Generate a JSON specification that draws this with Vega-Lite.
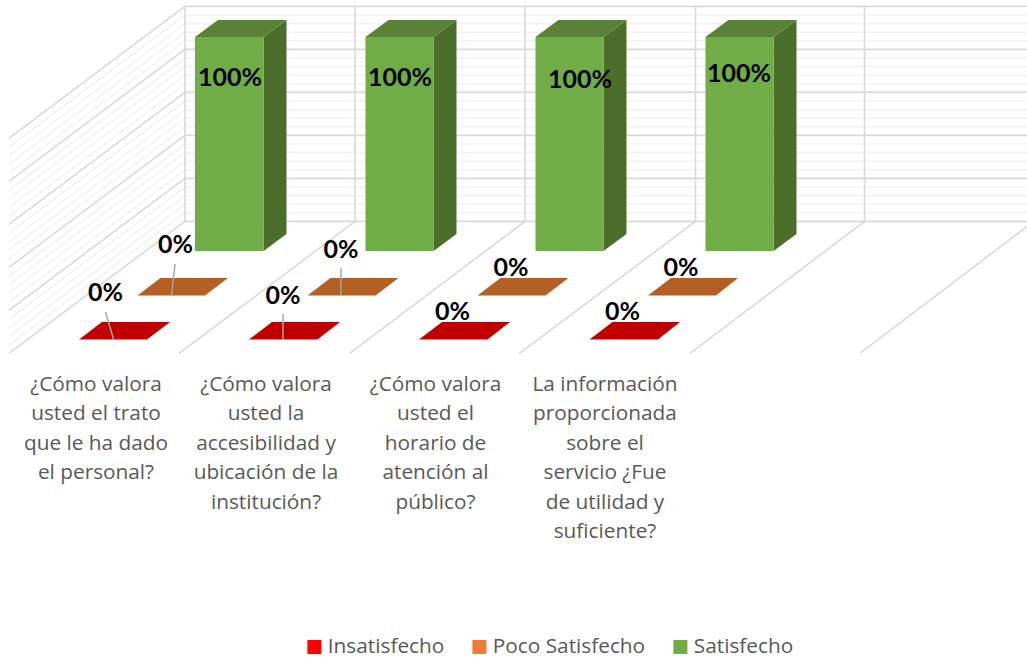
{"$schema":"https://vega.github.io/schema/vega-lite/v6.json","width":1027,"height":659,"autosize":{"type":"none"},"padding":0,"background":"#ffffff","config":{"view":{"stroke":null},"font":"Open Sans"},
"datasets":{
"wall":[
{"l":0,"k":"major","o":0,"x":9,"y":138.4},{"l":0,"k":"major","o":1,"x":185,"y":6.4},{"l":0,"k":"major","o":2,"x":1027,"y":6.4},
{"l":1,"k":"minor","o":0,"x":9,"y":147},{"l":1,"k":"minor","o":1,"x":185,"y":15},{"l":1,"k":"minor","o":2,"x":1027,"y":15},
{"l":2,"k":"minor","o":0,"x":9,"y":155.6},{"l":2,"k":"minor","o":1,"x":185,"y":23.6},{"l":2,"k":"minor","o":2,"x":1027,"y":23.6},
{"l":3,"k":"minor","o":0,"x":9,"y":164.2},{"l":3,"k":"minor","o":1,"x":185,"y":32.2},{"l":3,"k":"minor","o":2,"x":1027,"y":32.2},
{"l":4,"k":"minor","o":0,"x":9,"y":172.8},{"l":4,"k":"minor","o":1,"x":185,"y":40.8},{"l":4,"k":"minor","o":2,"x":1027,"y":40.8},
{"l":5,"k":"major","o":0,"x":9,"y":181.4},{"l":5,"k":"major","o":1,"x":185,"y":49.4},{"l":5,"k":"major","o":2,"x":1027,"y":49.4},
{"l":6,"k":"minor","o":0,"x":9,"y":190},{"l":6,"k":"minor","o":1,"x":185,"y":58},{"l":6,"k":"minor","o":2,"x":1027,"y":58},
{"l":7,"k":"minor","o":0,"x":9,"y":198.6},{"l":7,"k":"minor","o":1,"x":185,"y":66.6},{"l":7,"k":"minor","o":2,"x":1027,"y":66.6},
{"l":8,"k":"minor","o":0,"x":9,"y":207.2},{"l":8,"k":"minor","o":1,"x":185,"y":75.2},{"l":8,"k":"minor","o":2,"x":1027,"y":75.2},
{"l":9,"k":"minor","o":0,"x":9,"y":215.8},{"l":9,"k":"minor","o":1,"x":185,"y":83.8},{"l":9,"k":"minor","o":2,"x":1027,"y":83.8},
{"l":10,"k":"major","o":0,"x":9,"y":224.4},{"l":10,"k":"major","o":1,"x":185,"y":92.4},{"l":10,"k":"major","o":2,"x":1027,"y":92.4},
{"l":11,"k":"minor","o":0,"x":9,"y":233},{"l":11,"k":"minor","o":1,"x":185,"y":101},{"l":11,"k":"minor","o":2,"x":1027,"y":101},
{"l":12,"k":"minor","o":0,"x":9,"y":241.6},{"l":12,"k":"minor","o":1,"x":185,"y":109.6},{"l":12,"k":"minor","o":2,"x":1027,"y":109.6},
{"l":13,"k":"minor","o":0,"x":9,"y":250.2},{"l":13,"k":"minor","o":1,"x":185,"y":118.2},{"l":13,"k":"minor","o":2,"x":1027,"y":118.2},
{"l":14,"k":"minor","o":0,"x":9,"y":258.8},{"l":14,"k":"minor","o":1,"x":185,"y":126.8},{"l":14,"k":"minor","o":2,"x":1027,"y":126.8},
{"l":15,"k":"major","o":0,"x":9,"y":267.4},{"l":15,"k":"major","o":1,"x":185,"y":135.4},{"l":15,"k":"major","o":2,"x":1027,"y":135.4},
{"l":16,"k":"minor","o":0,"x":9,"y":276},{"l":16,"k":"minor","o":1,"x":185,"y":144},{"l":16,"k":"minor","o":2,"x":1027,"y":144},
{"l":17,"k":"minor","o":0,"x":9,"y":284.6},{"l":17,"k":"minor","o":1,"x":185,"y":152.6},{"l":17,"k":"minor","o":2,"x":1027,"y":152.6},
{"l":18,"k":"minor","o":0,"x":9,"y":293.2},{"l":18,"k":"minor","o":1,"x":185,"y":161.2},{"l":18,"k":"minor","o":2,"x":1027,"y":161.2},
{"l":19,"k":"minor","o":0,"x":9,"y":301.8},{"l":19,"k":"minor","o":1,"x":185,"y":169.8},{"l":19,"k":"minor","o":2,"x":1027,"y":169.8},
{"l":20,"k":"major","o":0,"x":9,"y":310.4},{"l":20,"k":"major","o":1,"x":185,"y":178.4},{"l":20,"k":"major","o":2,"x":1027,"y":178.4},
{"l":21,"k":"minor","o":0,"x":9,"y":319},{"l":21,"k":"minor","o":1,"x":185,"y":187},{"l":21,"k":"minor","o":2,"x":1027,"y":187},
{"l":22,"k":"minor","o":0,"x":9,"y":327.6},{"l":22,"k":"minor","o":1,"x":185,"y":195.6},{"l":22,"k":"minor","o":2,"x":1027,"y":195.6},
{"l":23,"k":"minor","o":0,"x":9,"y":336.2},{"l":23,"k":"minor","o":1,"x":185,"y":204.2},{"l":23,"k":"minor","o":2,"x":1027,"y":204.2},
{"l":24,"k":"minor","o":0,"x":9,"y":344.8},{"l":24,"k":"minor","o":1,"x":185,"y":212.8},{"l":24,"k":"minor","o":2,"x":1027,"y":212.8},
{"l":25,"k":"major","o":0,"x":9,"y":353.4},{"l":25,"k":"major","o":1,"x":185,"y":221.4},{"l":25,"k":"major","o":2,"x":1027,"y":221.4},
{"l":30,"k":"major","o":0,"x":185,"y":6.4},{"l":30,"k":"major","o":1,"x":185,"y":221.4},
{"l":31,"k":"major","o":0,"x":355,"y":6.4},{"l":31,"k":"major","o":1,"x":355,"y":221.4},{"l":31,"k":"major","o":2,"x":179,"y":353.4},
{"l":32,"k":"major","o":0,"x":525,"y":6.4},{"l":32,"k":"major","o":1,"x":525,"y":221.4},{"l":32,"k":"major","o":2,"x":349.5,"y":353.4},
{"l":33,"k":"major","o":0,"x":695.5,"y":6.4},{"l":33,"k":"major","o":1,"x":695.5,"y":221.4},{"l":33,"k":"major","o":2,"x":519.5,"y":353.4},
{"l":34,"k":"major","o":0,"x":864.5,"y":6.4},{"l":34,"k":"major","o":1,"x":864.5,"y":221.4},{"l":34,"k":"major","o":2,"x":690,"y":353.4},
{"l":35,"k":"major","o":0,"x":1027,"y":226.5},{"l":35,"k":"major","o":1,"x":860,"y":353.4}
],
"bars":[
{"pregunta":"Trato","serie":"Satisfecho","valor":1,"x":195,"x2":263.5,"y":37,"y2":251},
{"pregunta":"Accesibilidad","serie":"Satisfecho","valor":1,"x":365.5,"x2":433.5,"y":37,"y2":251},
{"pregunta":"Horario","serie":"Satisfecho","valor":1,"x":535.5,"x2":603.5,"y":37,"y2":251},
{"pregunta":"Información","serie":"Satisfecho","valor":1,"x":705.5,"x2":773.5,"y":37,"y2":251}
],
"sides":[
{"p":"a","x":263.5,"y":37,"y2":251},{"p":"a","x":286.5,"y":20,"y2":234},
{"p":"b","x":433.5,"y":37,"y2":251},{"p":"b","x":456.5,"y":20,"y2":234},
{"p":"c","x":603.5,"y":37,"y2":251},{"p":"c","x":626.5,"y":20,"y2":234},
{"p":"d","x":773.5,"y":37,"y2":251},{"p":"d","x":796.5,"y":20,"y2":234}
],
"flats":[
{"p":"ta","f":"#5a8237","y":37,"x":195,"x2":263.5},{"p":"ta","f":"#5a8237","y":20,"x":218,"x2":286.5},
{"p":"tb","f":"#5a8237","y":37,"x":365.5,"x2":433.5},{"p":"tb","f":"#5a8237","y":20,"x":388.5,"x2":456.5},
{"p":"tc","f":"#5a8237","y":37,"x":535.5,"x2":603.5},{"p":"tc","f":"#5a8237","y":20,"x":558.5,"x2":626.5},
{"p":"td","f":"#5a8237","y":37,"x":705.5,"x2":773.5},{"p":"td","f":"#5a8237","y":20,"x":728.5,"x2":796.5},
{"p":"oa","f":"#b45f23","y":295.5,"x":137.5,"x2":205},{"p":"oa","f":"#b45f23","y":278,"x":160.5,"x2":228},
{"p":"ob","f":"#b45f23","y":295.5,"x":307.5,"x2":375.5},{"p":"ob","f":"#b45f23","y":278,"x":330.5,"x2":398.5},
{"p":"oc","f":"#b45f23","y":295.5,"x":477.5,"x2":545.5},{"p":"oc","f":"#b45f23","y":278,"x":500.5,"x2":568.5},
{"p":"od","f":"#b45f23","y":295.5,"x":648,"x2":716},{"p":"od","f":"#b45f23","y":278,"x":671,"x2":738},
{"p":"ra","f":"#c00000","y":339.5,"x":79,"x2":147},{"p":"ra","f":"#c00000","y":322,"x":102,"x2":170},
{"p":"rb","f":"#c00000","y":339.5,"x":249,"x2":317.5},{"p":"rb","f":"#c00000","y":322,"x":272,"x2":340},
{"p":"rc","f":"#c00000","y":339.5,"x":419,"x2":487.5},{"p":"rc","f":"#c00000","y":322,"x":442,"x2":510},
{"p":"rd","f":"#c00000","y":339.5,"x":589.5,"x2":658},{"p":"rd","f":"#c00000","y":322,"x":612.5,"x2":680}
],
"leaders":[
{"l":"a","o":0,"x":175,"y":264},{"l":"a","o":1,"x":171.5,"y":295},
{"l":"b","o":0,"x":105.5,"y":312},{"l":"b","o":1,"x":113.5,"y":339},
{"l":"c","o":0,"x":341,"y":268},{"l":"c","o":1,"x":341,"y":295},
{"l":"d","o":0,"x":283,"y":314},{"l":"d","o":1,"x":283,"y":339}
],
"labels":[
{"serie":"Satisfecho","valor":1,"x":230,"y":77.5},{"serie":"Satisfecho","valor":1,"x":400,"y":77.5},{"serie":"Satisfecho","valor":1,"x":580,"y":80},{"serie":"Satisfecho","valor":1,"x":739,"y":73.5},
{"serie":"Poco Satisfecho","valor":0,"x":175.5,"y":244.5},{"serie":"Poco Satisfecho","valor":0,"x":341,"y":249.5},{"serie":"Poco Satisfecho","valor":0,"x":511,"y":267.5},{"serie":"Poco Satisfecho","valor":0,"x":681,"y":267.5},
{"serie":"Insatisfecho","valor":0,"x":105.5,"y":292.5},{"serie":"Insatisfecho","valor":0,"x":283,"y":295.5},{"serie":"Insatisfecho","valor":0,"x":452.5,"y":311.5},{"serie":"Insatisfecho","valor":0,"x":622.5,"y":311.5}
],
"cats":[
{"texto":"¿Cómo valora\nusted el trato\nque le ha dado\nel personal?","x":96,"y":375},
{"texto":"¿Cómo valora\nusted la\naccesibilidad y\nubicación de la\ninstitución?","x":266,"y":375},
{"texto":"¿Cómo valora\nusted el\nhorario de\natención al\npúblico?","x":435.5,"y":375},
{"texto":"La información\nproporcionada\nsobre el\nservicio ¿Fue\nde utilidad y\nsuficiente?","x":605,"y":375}
],
"leg":[
{"serie":"Insatisfecho","x":-20,"y":-20},{"serie":"Poco Satisfecho","x":-20,"y":-20},{"serie":"Satisfecho","x":-20,"y":-20}
]},
"encoding":{"x":{"field":"x","type":"quantitative","axis":null,"scale":{"domain":[0,1027],"nice":false,"zero":false}},"y":{"field":"y","type":"quantitative","axis":null,"scale":{"domain":[659,0],"nice":false,"zero":false}}},
"layer":[
{"data":{"name":"wall"},"transform":[{"filter":"datum.k==='minor'"}],"mark":{"type":"line","stroke":"#f2f2f2","strokeWidth":1.6,"interpolate":"linear"},"encoding":{"detail":{"field":"l"},"order":{"field":"o"}}},
{"data":{"name":"wall"},"transform":[{"filter":"datum.k==='major'"}],"mark":{"type":"line","stroke":"#d9d9d9","strokeWidth":1.6,"interpolate":"linear"},"encoding":{"detail":{"field":"l"},"order":{"field":"o"}}},
{"data":{"name":"sides"},"mark":{"type":"area","fill":"#4b6f2b"},"encoding":{"y2":{"field":"y2"},"detail":{"field":"p"}}},
{"data":{"name":"flats"},"mark":{"type":"area","orient":"horizontal"},"encoding":{"x2":{"field":"x2"},"detail":{"field":"p"},"fill":{"field":"f","type":"nominal","scale":null}}},
{"data":{"name":"bars"},"mark":{"type":"rect","fill":"#70ad47"},"encoding":{"x2":{"field":"x2"},"y2":{"field":"y2"}}},
{"data":{"name":"leaders"},"mark":{"type":"line","stroke":"#a6a6a6","strokeWidth":1.5},"encoding":{"detail":{"field":"l"},"order":{"field":"o"}}},
{"data":{"name":"labels"},"mark":{"type":"text","font":"Lato","fontWeight":"bold","fontSize":25,"fill":"#000000","align":"center","baseline":"middle"},"encoding":{"text":{"field":"valor","type":"quantitative","format":".0%"}}},
{"data":{"name":"cats"},"mark":{"type":"text","font":"Open Sans","fontSize":20.8,"fill":"#595959","align":"center","baseline":"top","lineBreak":"\n","lineHeight":29.4},"encoding":{"text":{"field":"texto"}}},
{"data":{"name":"leg"},"mark":{"type":"square","size":196,"opacity":0},"encoding":{"color":{"field":"serie","type":"nominal","scale":{"domain":["Insatisfecho","Poco Satisfecho","Satisfecho"],"range":["#ff0000","#ed7d31","#70ad47"]},"legend":{"title":null,"orient":"none","legendX":304,"legendY":634,"direction":"horizontal","symbolType":"square","symbolSize":196,"symbolOpacity":1,"symbolStrokeWidth":0,"labelFont":"Open Sans","labelFontSize":20.8,"labelColor":"#595959","columnPadding":24,"labelOffset":3,"clipHeight":26}}}}
]}
